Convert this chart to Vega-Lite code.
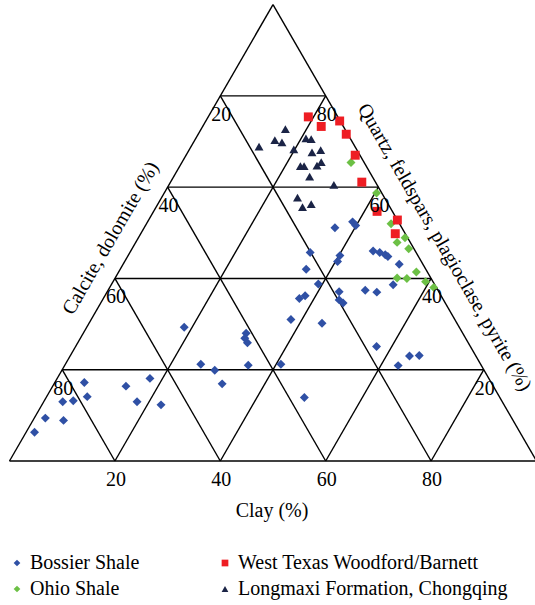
{
  "$schema": "https://vega.github.io/schema/vega-lite/v6.json",
  "width": 535,
  "height": 605,
  "padding": 0,
  "autosize": {"type": "none"},
  "background": "white",
  "config": {"view": {"stroke": null}, "font": "Liberation Serif"},
  "datasets": {
    "samples": [
      {"formation": "Bossier Shale", "quartz": 17.2, "clay": 5.6, "carbonate": 77.2},
      {"formation": "Bossier Shale", "quartz": 13.0, "clay": 3.6, "carbonate": 83.4},
      {"formation": "Bossier Shale", "quartz": 13.2, "clay": 5.5, "carbonate": 81.3},
      {"formation": "Bossier Shale", "quartz": 14.1, "clay": 7.7, "carbonate": 78.2},
      {"formation": "Bossier Shale", "quartz": 9.4, "clay": 2.1, "carbonate": 88.5},
      {"formation": "Bossier Shale", "quartz": 8.9, "clay": 5.8, "carbonate": 85.3},
      {"formation": "Bossier Shale", "quartz": 6.3, "clay": 1.6, "carbonate": 92.1},
      {"formation": "Bossier Shale", "quartz": 16.4, "clay": 13.9, "carbonate": 69.7},
      {"formation": "Bossier Shale", "quartz": 18.1, "clay": 17.6, "carbonate": 64.3},
      {"formation": "Bossier Shale", "quartz": 13.0, "clay": 17.7, "carbonate": 69.3},
      {"formation": "Bossier Shale", "quartz": 12.3, "clay": 22.6, "carbonate": 65.1},
      {"formation": "Bossier Shale", "quartz": 29.3, "clay": 18.5, "carbonate": 52.2},
      {"formation": "Bossier Shale", "quartz": 28.0, "clay": 30.9, "carbonate": 41.1},
      {"formation": "Bossier Shale", "quartz": 26.9, "clay": 31.2, "carbonate": 41.9},
      {"formation": "Bossier Shale", "quartz": 25.9, "clay": 32.2, "carbonate": 41.9},
      {"formation": "Bossier Shale", "quartz": 21.2, "clay": 25.7, "carbonate": 53.1},
      {"formation": "Bossier Shale", "quartz": 19.9, "clay": 29.0, "carbonate": 51.1},
      {"formation": "Bossier Shale", "quartz": 21.0, "clay": 34.8, "carbonate": 44.2},
      {"formation": "Bossier Shale", "quartz": 21.2, "clay": 40.9, "carbonate": 37.9},
      {"formation": "Bossier Shale", "quartz": 16.9, "clay": 31.9, "carbonate": 51.2},
      {"formation": "Bossier Shale", "quartz": 13.9, "clay": 49.0, "carbonate": 37.1},
      {"formation": "Bossier Shale", "quartz": 31.0, "clay": 37.9, "carbonate": 31.1},
      {"formation": "Bossier Shale", "quartz": 30.2, "clay": 44.2, "carbonate": 25.6},
      {"formation": "Bossier Shale", "quartz": 35.6, "clay": 37.2, "carbonate": 27.2},
      {"formation": "Bossier Shale", "quartz": 36.2, "clay": 38.0, "carbonate": 25.8},
      {"formation": "Bossier Shale", "quartz": 38.8, "clay": 39.2, "carbonate": 22.0},
      {"formation": "Bossier Shale", "quartz": 37.1, "clay": 44.0, "carbonate": 18.9},
      {"formation": "Bossier Shale", "quartz": 35.3, "clay": 44.9, "carbonate": 19.8},
      {"formation": "Bossier Shale", "quartz": 34.6, "clay": 46.0, "carbonate": 19.4},
      {"formation": "Bossier Shale", "quartz": 37.4, "clay": 48.8, "carbonate": 13.8},
      {"formation": "Bossier Shale", "quartz": 37.0, "clay": 51.2, "carbonate": 11.8},
      {"formation": "Bossier Shale", "quartz": 38.6, "clay": 53.5, "carbonate": 7.9},
      {"formation": "Bossier Shale", "quartz": 25.1, "clay": 57.1, "carbonate": 17.8},
      {"formation": "Bossier Shale", "quartz": 23.0, "clay": 64.4, "carbonate": 12.6},
      {"formation": "Bossier Shale", "quartz": 23.1, "clay": 66.2, "carbonate": 10.7},
      {"formation": "Bossier Shale", "quartz": 20.9, "clay": 63.3, "carbonate": 15.8},
      {"formation": "Bossier Shale", "quartz": 51.1, "clay": 36.2, "carbonate": 12.7},
      {"formation": "Bossier Shale", "quartz": 52.4, "clay": 38.9, "carbonate": 8.7},
      {"formation": "Bossier Shale", "quartz": 51.6, "clay": 39.9, "carbonate": 8.5},
      {"formation": "Bossier Shale", "quartz": 45.7, "clay": 34.2, "carbonate": 20.1},
      {"formation": "Bossier Shale", "quartz": 42.0, "clay": 35.3, "carbonate": 22.7},
      {"formation": "Bossier Shale", "quartz": 43.7, "clay": 40.4, "carbonate": 15.9},
      {"formation": "Bossier Shale", "quartz": 45.0, "clay": 40.2, "carbonate": 14.8},
      {"formation": "Bossier Shale", "quartz": 46.0, "clay": 46.0, "carbonate": 8.0},
      {"formation": "Bossier Shale", "quartz": 45.7, "clay": 47.4, "carbonate": 6.9},
      {"formation": "Bossier Shale", "quartz": 45.2, "clay": 48.7, "carbonate": 6.1},
      {"formation": "Bossier Shale", "quartz": 44.8, "clay": 49.4, "carbonate": 5.8},
      {"formation": "Bossier Shale", "quartz": 43.1, "clay": 52.4, "carbonate": 4.5},
      {"formation": "Ohio Shale", "quartz": 65.4, "clay": 32.1, "carbonate": 2.5},
      {"formation": "Ohio Shale", "quartz": 58.7, "clay": 40.3, "carbonate": 1.0},
      {"formation": "Ohio Shale", "quartz": 52.0, "clay": 46.4, "carbonate": 1.6},
      {"formation": "Ohio Shale", "quartz": 48.9, "clay": 50.6, "carbonate": 0.5},
      {"formation": "Ohio Shale", "quartz": 47.9, "clay": 49.6, "carbonate": 2.5},
      {"formation": "Ohio Shale", "quartz": 46.5, "clay": 52.5, "carbonate": 1.0},
      {"formation": "Ohio Shale", "quartz": 41.4, "clay": 56.5, "carbonate": 2.1},
      {"formation": "Ohio Shale", "quartz": 40.1, "clay": 53.5, "carbonate": 6.4},
      {"formation": "Ohio Shale", "quartz": 40.0, "clay": 55.4, "carbonate": 4.6},
      {"formation": "Ohio Shale", "quartz": 39.3, "clay": 59.3, "carbonate": 1.4},
      {"formation": "Ohio Shale", "quartz": 38.0, "clay": 61.5, "carbonate": 0.5},
      {"formation": "West Texas Woodford/Barnett", "quartz": 75.4, "clay": 19.0, "carbonate": 5.6},
      {"formation": "West Texas Woodford/Barnett", "quartz": 73.3, "clay": 22.5, "carbonate": 4.2},
      {"formation": "West Texas Woodford/Barnett", "quartz": 74.5, "clay": 25.4, "carbonate": 0.1},
      {"formation": "West Texas Woodford/Barnett", "quartz": 71.6, "clay": 28.1, "carbonate": 0.3},
      {"formation": "West Texas Woodford/Barnett", "quartz": 67.0, "clay": 32.1, "carbonate": 0.9},
      {"formation": "West Texas Woodford/Barnett", "quartz": 61.1, "clay": 36.3, "carbonate": 2.6},
      {"formation": "West Texas Woodford/Barnett", "quartz": 54.7, "clay": 42.4, "carbonate": 2.9},
      {"formation": "West Texas Woodford/Barnett", "quartz": 52.8, "clay": 47.2, "carbonate": 0.0},
      {"formation": "West Texas Woodford/Barnett", "quartz": 49.8, "clay": 48.3, "carbonate": 1.9},
      {"formation": "Longmaxi Formation, Chongqing", "quartz": 72.7, "clay": 16.0, "carbonate": 11.3},
      {"formation": "Longmaxi Formation, Chongqing", "quartz": 68.9, "clay": 12.9, "carbonate": 18.2},
      {"formation": "Longmaxi Formation, Chongqing", "quartz": 70.3, "clay": 15.2, "carbonate": 14.5},
      {"formation": "Longmaxi Formation, Chongqing", "quartz": 69.8, "clay": 16.8, "carbonate": 13.4},
      {"formation": "Longmaxi Formation, Chongqing", "quartz": 70.7, "clay": 20.9, "carbonate": 8.4},
      {"formation": "Longmaxi Formation, Chongqing", "quartz": 70.5, "clay": 22.0, "carbonate": 7.5},
      {"formation": "Longmaxi Formation, Chongqing", "quartz": 68.3, "clay": 19.8, "carbonate": 11.9},
      {"formation": "Longmaxi Formation, Chongqing", "quartz": 67.6, "clay": 23.6, "carbonate": 8.8},
      {"formation": "Longmaxi Formation, Chongqing", "quartz": 68.1, "clay": 25.0, "carbonate": 6.9},
      {"formation": "Longmaxi Formation, Chongqing", "quartz": 64.6, "clay": 22.9, "carbonate": 12.5},
      {"formation": "Longmaxi Formation, Chongqing", "quartz": 64.6, "clay": 23.6, "carbonate": 11.8},
      {"formation": "Longmaxi Formation, Chongqing", "quartz": 64.7, "clay": 26.0, "carbonate": 9.3},
      {"formation": "Longmaxi Formation, Chongqing", "quartz": 65.5, "clay": 26.4, "carbonate": 8.1},
      {"formation": "Longmaxi Formation, Chongqing", "quartz": 62.3, "clay": 25.8, "carbonate": 11.9},
      {"formation": "Longmaxi Formation, Chongqing", "quartz": 60.5, "clay": 31.3, "carbonate": 8.2},
      {"formation": "Longmaxi Formation, Chongqing", "quartz": 57.7, "clay": 25.8, "carbonate": 16.5},
      {"formation": "Longmaxi Formation, Chongqing", "quartz": 56.3, "clay": 29.1, "carbonate": 14.6},
      {"formation": "Longmaxi Formation, Chongqing", "quartz": 55.6, "clay": 27.8, "carbonate": 16.6}
    ],
    "gridLines": [
      {"kind": "edge", "q1": 0, "c1": 0, "q2": 0, "c2": 100},
      {"kind": "edge", "q1": 0, "c1": 0, "q2": 100, "c2": 0},
      {"kind": "edge", "q1": 0, "c1": 100, "q2": 100, "c2": 0},
      {"kind": "quartz", "q1": 20, "c1": 0, "q2": 20, "c2": 80},
      {"kind": "quartz", "q1": 40, "c1": 0, "q2": 40, "c2": 60},
      {"kind": "quartz", "q1": 60, "c1": 0, "q2": 60, "c2": 40},
      {"kind": "quartz", "q1": 80, "c1": 0, "q2": 80, "c2": 20},
      {"kind": "clay", "q1": 0, "c1": 20, "q2": 80, "c2": 20},
      {"kind": "clay", "q1": 0, "c1": 40, "q2": 60, "c2": 40},
      {"kind": "clay", "q1": 0, "c1": 60, "q2": 40, "c2": 60},
      {"kind": "clay", "q1": 0, "c1": 80, "q2": 20, "c2": 80},
      {"kind": "carbonate", "q1": 0, "c1": 80, "q2": 80, "c2": 0},
      {"kind": "carbonate", "q1": 0, "c1": 60, "q2": 60, "c2": 0},
      {"kind": "carbonate", "q1": 0, "c1": 40, "q2": 40, "c2": 0},
      {"kind": "carbonate", "q1": 0, "c1": 20, "q2": 20, "c2": 0}
    ],
    "tickLabels": [
      {"axis": "carbonate", "label": "20", "quartz": 80, "clay": 0},
      {"axis": "carbonate", "label": "40", "quartz": 60, "clay": 0},
      {"axis": "carbonate", "label": "60", "quartz": 40, "clay": 0},
      {"axis": "carbonate", "label": "80", "quartz": 20, "clay": 0},
      {"axis": "quartz", "label": "80", "quartz": 80, "clay": 20},
      {"axis": "quartz", "label": "60", "quartz": 60, "clay": 40},
      {"axis": "quartz", "label": "40", "quartz": 40, "clay": 60},
      {"axis": "quartz", "label": "20", "quartz": 20, "clay": 80},
      {"axis": "clay", "label": "20", "quartz": 0, "clay": 20},
      {"axis": "clay", "label": "40", "quartz": 0, "clay": 40},
      {"axis": "clay", "label": "60", "quartz": 0, "clay": 60},
      {"axis": "clay", "label": "80", "quartz": 0, "clay": 80}
    ]
  },
  "encoding": {
    "x": {"field": "tx", "type": "quantitative", "scale": {"domain": [-1.8027, 99.715], "nice": false, "zero": false}, "axis": null},
    "y": {"field": "ty", "type": "quantitative", "scale": {"domain": [-27.324, 87.476], "nice": false, "zero": false}, "axis": null}
  },
  "layer": [
    {
      "data": {"name": "gridLines"},
      "transform": [
        {"calculate": "datum.c1 + datum.q1 / 2", "as": "tx"},
        {"calculate": "datum.q1 * 0.8660254", "as": "ty"},
        {"calculate": "datum.c2 + datum.q2 / 2", "as": "tx2"},
        {"calculate": "datum.q2 * 0.8660254", "as": "ty2"}
      ],
      "mark": {"type": "rule", "color": "black", "strokeWidth": 1.4},
      "encoding": {
        "x2": {"field": "tx2"},
        "y2": {"field": "ty2"}
      }
    },
    {
      "data": {"name": "samples"},
      "transform": [
        {"calculate": "datum.clay + datum.quartz / 2", "as": "tx"},
        {"calculate": "datum.quartz * 0.8660254", "as": "ty"}
      ],
      "mark": {"type": "point", "filled": true, "opacity": 1, "size": 80},
      "encoding": {
        "color": {
          "field": "formation", "type": "nominal",
          "scale": {
            "domain": ["Bossier Shale", "Ohio Shale", "West Texas Woodford/Barnett", "Longmaxi Formation, Chongqing"],
            "range": ["#2f50a5", "#6cc045", "#ee1d23", "#1b2446"]
          },
          "legend": {
            "orient": "none", "legendX": 7, "legendY": 553, "columns": 2,
            "columnPadding": 75, "rowPadding": 6, "title": null, "padding": 0,
            "labelFont": "Liberation Serif", "labelFontSize": 20, "labelColor": "black",
            "labelOffset": 3, "labelLimit": 400, "symbolSize": 45
          }
        },
        "shape": {
          "field": "formation", "type": "nominal",
          "scale": {
            "domain": ["Bossier Shale", "Ohio Shale", "West Texas Woodford/Barnett", "Longmaxi Formation, Chongqing"],
            "range": ["diamond", "diamond", "square", "triangle-up"]
          },
          "legend": {
            "orient": "none", "legendX": 7, "legendY": 553, "columns": 2,
            "columnPadding": 75, "rowPadding": 6, "title": null, "padding": 0,
            "labelFont": "Liberation Serif", "labelFontSize": 20, "labelColor": "black",
            "labelOffset": 3, "labelLimit": 400, "symbolSize": 45
          }
        }
      }
    },
    {
      "data": {"name": "tickLabels"},
      "transform": [
        {"calculate": "datum.clay + datum.quartz / 2", "as": "tx"},
        {"calculate": "datum.quartz * 0.8660254", "as": "ty"}
      ],
      "mark": {"type": "text", "font": "Liberation Serif", "fontSize": 20, "color": "black", "align": "center", "baseline": "middle", "dx": 1, "dy": 19},
      "encoding": {"text": {"field": "label"}}
    },
    {
      "data": {"values": [{"title": "Clay (%)", "quartz": 0, "clay": 50}]},
      "transform": [
        {"calculate": "datum.clay + datum.quartz / 2", "as": "tx"},
        {"calculate": "datum.quartz * 0.8660254", "as": "ty"}
      ],
      "mark": {"type": "text", "font": "Liberation Serif", "fontSize": 20, "color": "black", "align": "center", "baseline": "middle", "dx": -1, "dy": 50},
      "encoding": {"text": {"field": "title"}}
    },
    {
      "data": {"values": [{"title": "Calcite, dolomite (%)", "quartz": 50, "clay": 0}]},
      "transform": [
        {"calculate": "datum.clay + datum.quartz / 2", "as": "tx"},
        {"calculate": "datum.quartz * 0.8660254", "as": "ty"}
      ],
      "mark": {"type": "text", "font": "Liberation Serif", "fontSize": 20, "color": "black", "align": "center", "baseline": "middle", "angle": -60, "dx": -20, "dy": -23.7},
      "encoding": {"text": {"field": "title"}}
    },
    {
      "data": {"values": [{"title": "Quartz, feldspars, plagioclase, pyrite (%)", "quartz": 50, "clay": 50}]},
      "transform": [
        {"calculate": "datum.clay + datum.quartz / 2", "as": "tx"},
        {"calculate": "datum.quartz * 0.8660254", "as": "ty"}
      ],
      "mark": {"type": "text", "font": "Liberation Serif", "fontSize": 20, "color": "black", "align": "center", "baseline": "middle", "angle": 60, "dx": 32.5, "dy": -27.1},
      "encoding": {"text": {"field": "title"}}
    }
  ]
}
